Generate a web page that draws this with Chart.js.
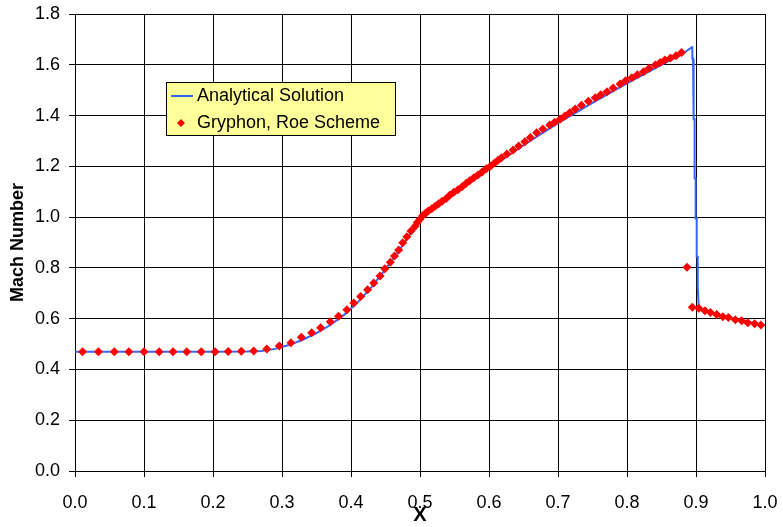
<!DOCTYPE html>
<html>
<head>
<meta charset="utf-8">
<script src="https://cdn.jsdelivr.net/npm/chart.js@4/dist/chart.umd.min.js"></script>
<style>
html,body{margin:0;padding:0;background:#fff;}
#wrap{width:783px;height:527px;}
</style>
</head>
<body>
<div id="wrap"><canvas id="c" width="783" height="527"></canvas></div>
<script>
// Analytical solution (x, Mach)
const analyticalX = [0, 0.05, 0.1, 0.15, 0.2, 0.25, 0.27, 0.29, 0.31, 0.33, 0.35, 0.37, 0.39, 0.41, 0.43, 0.45, 0.47, 0.49, 0.5, 0.51, 0.52, 0.54, 0.56, 0.58, 0.6, 0.65, 0.7, 0.75, 0.8, 0.85, 0.88, 0.894,
  0.8947, 0.8947, 0.8957, 0.8957, 0.897, 0.897, 0.898, 0.898, 0.8995, 0.8995, 0.901, 0.901, 0.9025, 0.9025, 0.904,
  0.92, 0.94, 0.96, 0.98, 1.0];
const analyticalM = [0.47, 0.47, 0.47, 0.47, 0.47, 0.471, 0.473, 0.481, 0.496, 0.517, 0.543, 0.575, 0.615, 0.665, 0.725, 0.795, 0.87, 0.95, 0.985, 1.012, 1.035, 1.075, 1.113, 1.15, 1.19, 1.283, 1.37, 1.45, 1.527, 1.6, 1.642, 1.669,
  1.669, 1.625, 1.625, 1.52, 1.52, 1.385, 1.385, 1.153, 1.153, 0.995, 0.995, 0.844, 0.844, 0.726, 0.641,
  0.626, 0.611, 0.597, 0.585, 0.574];

// Gryphon, Roe Scheme (x, Mach)
const gryphonX = [0.011, 0.034, 0.057, 0.078, 0.100, 0.122, 0.142, 0.162, 0.183, 0.203, 0.222, 0.241, 0.259, 0.278, 0.296,
  0.313, 0.328, 0.343, 0.356, 0.370, 0.382, 0.394, 0.404, 0.414, 0.424, 0.433, 0.442, 0.449, 0.457, 0.463, 0.469, 0.475,
  0.481, 0.487, 0.493, 0.496, 0.500, 0.504, 0.508, 0.512, 0.517, 0.522, 0.527, 0.532, 0.538, 0.543, 0.549, 0.555, 0.561,
  0.567, 0.572, 0.578, 0.584, 0.590, 0.596, 0.602, 0.608, 0.613, 0.618, 0.626, 0.635, 0.643, 0.652, 0.660, 0.669, 0.678,
  0.688, 0.695, 0.703, 0.710, 0.717, 0.725, 0.734, 0.744, 0.754, 0.762, 0.771, 0.780, 0.790, 0.798, 0.807, 0.815, 0.824,
  0.832, 0.841, 0.848, 0.855, 0.863, 0.871, 0.879, 0.887, 0.8947, 0.904, 0.913, 0.921, 0.930, 0.939, 0.947, 0.957, 0.966,
  0.975, 0.985, 0.994];
const gryphonM = [0.47, 0.47, 0.47, 0.47, 0.47, 0.47, 0.47, 0.47, 0.47, 0.47, 0.471, 0.472, 0.473, 0.481, 0.492,
  0.505, 0.527, 0.545, 0.564, 0.588, 0.610, 0.635, 0.662, 0.687, 0.714, 0.740, 0.768, 0.797, 0.822, 0.847, 0.870, 0.899,
  0.923, 0.945, 0.964, 0.979, 0.992, 1.006, 1.015, 1.024, 1.033, 1.043, 1.053, 1.062, 1.073, 1.086, 1.098, 1.108, 1.120,
  1.133, 1.143, 1.155, 1.166, 1.178, 1.190, 1.200, 1.213, 1.224, 1.234, 1.249, 1.264, 1.280, 1.297, 1.314, 1.332, 1.347,
  1.363, 1.374, 1.385, 1.398, 1.411, 1.426, 1.441, 1.456, 1.470, 1.482, 1.494, 1.509, 1.524, 1.537, 1.549, 1.561, 1.573,
  1.586, 1.599, 1.609, 1.619, 1.627, 1.636, 1.648, 0.803, 0.645, 0.641, 0.631, 0.624, 0.616, 0.608, 0.605, 0.596, 0.592,
  0.584, 0.580, 0.575];

const seriesNames = ['Analytical Solution', 'Gryphon, Roe Scheme'];
const xTicks = [0, 0.1, 0.2, 0.3, 0.4, 0.5, 0.6, 0.7, 0.8, 0.9, 1.0];
const yTicks = [0, 0.2, 0.4, 0.6, 0.8, 1.0, 1.2, 1.4, 1.6, 1.8];

const LINE_COLOR = '#3366FF';
const MARK_COLOR = '#FF0000';
const FONT = '"Liberation Sans", Arial, sans-serif';

const legendPlugin = {
  id: 'boxLegend',
  afterDraw(chart) {
    const ctx = chart.ctx;
    const a = chart.chartArea;
    const x0 = a.left + 91, y0 = a.top + 68, w = 229, h = 53;
    ctx.save();
    ctx.fillStyle = '#FFFF99';
    ctx.fillRect(x0, y0, w, h);
    ctx.strokeStyle = '#000';
    ctx.lineWidth = 1;
    ctx.strokeRect(x0 + 0.5, y0 + 0.5, w, h);
    ctx.strokeStyle = LINE_COLOR;
    ctx.lineWidth = 2;
    ctx.beginPath();
    ctx.moveTo(x0 + 5, y0 + 14);
    ctx.lineTo(x0 + 27, y0 + 14);
    ctx.stroke();
    ctx.fillStyle = MARK_COLOR;
    ctx.beginPath();
    const mx = x0 + 15, my = y0 + 41, r = 4;
    ctx.moveTo(mx, my - r); ctx.lineTo(mx + r, my); ctx.lineTo(mx, my + r); ctx.lineTo(mx - r, my);
    ctx.closePath(); ctx.fill();
    ctx.fillStyle = '#000';
    ctx.font = '18px ' + FONT;
    ctx.textBaseline = 'middle';
    ctx.fillText(seriesNames[0], x0 + 31, y0 + 14);
    ctx.fillText(seriesNames[1], x0 + 31, y0 + 41);
    ctx.restore();
  }
};

new Chart(document.getElementById('c'), {
  type: 'scatter',
  data: {
    datasets: [
      {
        label: seriesNames[0],
        data: analyticalX.map((x, i) => ({x, y: analyticalM[i]})),
        showLine: true,
        borderColor: LINE_COLOR,
        borderWidth: 2,
        pointRadius: 0,
        tension: 0,
        order: 2
      },
      {
        label: seriesNames[1],
        data: gryphonX.map((x, i) => ({x, y: gryphonM[i]})),
        showLine: false,
        pointStyle: 'rectRot',
        pointRadius: 4.5,
        backgroundColor: MARK_COLOR,
        borderColor: MARK_COLOR,
        borderWidth: 0,
        order: 1
      }
    ]
  },
  options: {
    responsive: false,
    animation: false,
    devicePixelRatio: 1,
    layout: {padding: {left: 0, top: 14, right: 18, bottom: 0}},
    plugins: {legend: {display: false}, tooltip: {enabled: false}},
    scales: {
      x: {
        type: 'linear', min: 0, max: 1,
        afterBuildTicks: s => { s.ticks = xTicks.map(v => ({value: v})); },
        afterFit: s => { s.height = 56; s.paddingLeft = 0; s.paddingRight = 0; },
        ticks: {color: '#000', font: {size: 18, family: FONT}, padding: 15, callback: v => Number(v).toFixed(1), maxRotation: 0, autoSkip: false},
        grid: {color: '#000', lineWidth: 1, tickLength: 6, drawTicks: true},
        border: {color: '#000', width: 1},
        title: {display: true, text: 'X', color: '#000', font: {size: 20, weight: 'bold', family: FONT}, padding: {top: 0, bottom: 0}}
      },
      y: {
        type: 'linear', min: 0, max: 1.8,
        afterBuildTicks: s => { s.ticks = yTicks.map(v => ({value: v})); },
        afterFit: s => { s.width = 75; s.paddingTop = 0; s.paddingBottom = 0; },
        ticks: {color: '#000', font: {size: 18, family: FONT}, padding: 9, callback: v => Number(v).toFixed(1), autoSkip: false},
        grid: {color: '#000', lineWidth: 1, tickLength: 6, drawTicks: true},
        border: {color: '#000', width: 1},
        title: {display: true, text: 'Mach Number', color: '#000', font: {size: 18, weight: 'bold', family: FONT}, padding: {top: 7, bottom: 0}}
      }
    }
  },
  plugins: [legendPlugin]
});
</script>
</body>
</html>
